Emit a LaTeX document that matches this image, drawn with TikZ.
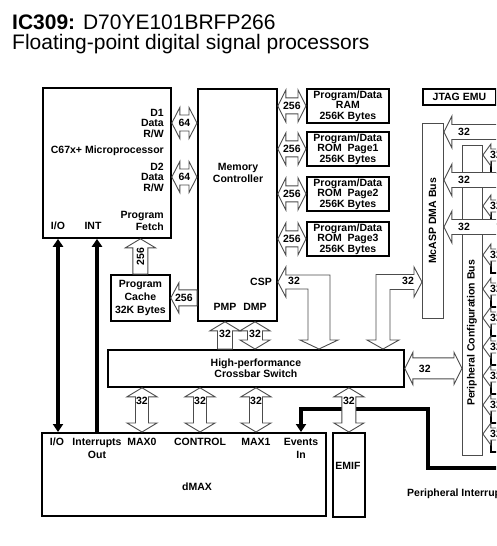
\documentclass[tikz,border=0pt]{standalone}
\usepackage{fontspec}
\setmainfont{Liberation Sans}
\usetikzlibrary{arrows.meta,calc}

% block buses: (left tip) (right tip) shaft-half head-half
\newcommand{\hdbl}[4]{%
  \draw[bus] (#1) -- ++(8,#4) -- ++(0,#3-#4) -- ($(#2)+(-8,#3)$) -- ++(0,#4-#3) -- (#2)
    -- ++(-8,-#4) -- ++(0,#4-#3) -- ($(#1)+(8,-#3)$) -- ++(0,#3-#4) -- cycle;}
\newcommand{\hsgl}[4]{%
  \draw[bus] (#1) -- ++(8,#4) -- ++(0,#3-#4) -- ($(#2)+(0,#3)$) -- ($(#2)+(0,-#3)$)
    -- ($(#1)+(8,-#3)$) -- ++(0,#3-#4) -- cycle;}
% (top tip) (bottom tip) shaft-half head-half
\newcommand{\vdbl}[4]{%
  \draw[bus] (#1) -- ++(#4,-9) -- ++(#3-#4,0) -- ($(#2)+(#3,9)$) -- ++(#4-#3,0) -- (#2)
    -- ++(-#4,9) -- ++(#4-#3,0) -- ($(#1)+(-#3,-9)$) -- ++(#3-#4,0) -- cycle;}
\newcommand{\vsgl}[4]{%
  \draw[bus] (#1) -- ++(#4,-9) -- ++(#3-#4,0) -- ($(#2)+(#3,0)$) -- ($(#2)+(-#3,0)$)
    -- ($(#1)+(-#3,-9)$) -- ++(#3-#4,0) -- cycle;}

\begin{document}
\begin{tikzpicture}[
  x=1pt, y=1pt,
  lbl/.style={font=\bfseries\fontsize{10.5}{10.5}\selectfont, text=black, inner sep=0pt, align=center},
  box/.style={lbl, draw=black, line width=1.8pt, fill=white, anchor=north west},
  rail/.style={draw=black!70, line width=0.9pt, fill=white, inner sep=0pt, anchor=north west},
  frag/.style={draw=black, line width=1.2pt, fill=white},
  bus/.style={draw=black!70, line width=0.9pt, fill=white},
  sig/.style={line width=4.5pt, black},
  tip/.style={-{Triangle[length=8pt,width=10pt]}},
  tips/.style={{Triangle[length=8pt,width=10pt]}-{Triangle[length=8pt,width=10pt]}},
  ttl/.style={font=\fontsize{21}{20}\selectfont, inner sep=0pt, anchor=base west}
]
\useasboundingbox (0,0) rectangle (496,-546);
\clip (0,0) rectangle (496,-546);

% title
\node[ttl] (title) at (12,-29.5) {\textbf{IC309:} D70YE101BRFP266};
\node[ttl] (subtitle) at (12,-49.5) {Floating-point digital signal processors};

% blocks
\node[box, minimum width=128, minimum height=150] (cpu) at (42,-87) {};
\node[box, minimum width=79, minimum height=232] (mem) at (197,-88) {};
\node[box, minimum width=82, minimum height=34] (ram) at (306,-88) {Program/Data\\RAM\\256K Bytes};
\node[box, minimum width=82, minimum height=34] (rom1) at (306,-131) {Program/Data\\ROM\ \ Page1\\256K Bytes};
\node[box, minimum width=82, minimum height=34] (rom2) at (306,-176) {Program/Data\\ROM\ \ Page2\\256K Bytes};
\node[box, minimum width=82, minimum height=34] (rom3) at (306,-221) {Program/Data\\ROM\ \ Page3\\256K Bytes};
\node[box, minimum width=59, minimum height=46] (cache) at (110,-274) {Program\\[2.5pt]Cache\\[2.5pt]32K Bytes};
\node[box, minimum width=296, minimum height=37] (xbar) at (107,-349) {High-performance\\[0.5pt]Crossbar Switch};
\node[box, minimum width=284, minimum height=83] (dmax) at (41,-432) {};
\node[box, minimum width=32, minimum height=84] (emif) at (332,-432) {};
\node[box, minimum width=73, minimum height=16] (jtag) at (422,-88) {JTAG EMU};
\node[rail, minimum width=21, minimum height=195] (mcasp) at (422,-123) {};
\node[rail, minimum width=20, minimum height=310] (pcb) at (462,-145) {};

% C67x+ labels
\node[lbl, anchor=east, align=right] (d1) at (164,-123) {D1\\Data\\R/W};
\node[lbl, anchor=east] (core) at (164,-151) {C67x+ Microprocessor};
\node[lbl, anchor=east, align=right] (d2) at (164,-177) {D2\\Data\\R/W};
\node[lbl, anchor=east, align=right] (fetch) at (164,-221) {Program\\[1.5pt]Fetch};
\node[lbl] (cio) at (58,-226) {I/O};
\node[lbl] (cint) at (93,-226) {INT};

% memory controller labels
\node[lbl] (memlbl) at (238,-173) {Memory\\[1.5pt]Controller};
\node[lbl, anchor=east] (csp) at (272,-282) {CSP};
\node[lbl] (pmp) at (225,-307) {PMP};
\node[lbl] (dmp) at (255,-307) {DMP};

% dMAX labels
\node[lbl, anchor=north] (dio) at (57,-438) {I/O};
\node[lbl, anchor=north] (dint) at (97,-438) {Interrupts\\[2.5pt]Out};
\node[lbl, anchor=north] (dmax0) at (142,-438) {MAX0};
\node[lbl, anchor=north] (dctl) at (200,-438) {CONTROL};
\node[lbl, anchor=north] (dmax1) at (256,-438) {MAX1};
\node[lbl, anchor=north] (evin) at (301,-438) {Events\\[2.5pt]In};
\node[lbl] (dmaxlbl) at (197,-487) {dMAX};
\node[lbl] (emiflbl) at (348,-466) {EMIF};
\node[lbl, anchor=west] (irqlbl) at (407,-494) {Peripheral Interrupts};

% interrupt and I/O lines
\coordinate (irqin) at (505,-468);
\draw[sig, tip] (irqin) -| ++(-77,59) -| (dmax.north -| evin);
\draw[sig, tips] (dmax.north -| cio) -- (cpu.south -| cio);
\draw[sig, tip] (dmax.north -| dint) -- (cpu.south -| dint);

% data buses
\hdbl{cpu.east |- d1}{mem.west |- d1}{8}{15.5}
\node[lbl] (b64a) at ($(cpu.east |- d1)!.5!(mem.west |- d1)$) {64};
\hdbl{cpu.east |- d2}{mem.west |- d2}{8}{15.5}
\node[lbl] (b64b) at ($(cpu.east |- d2)!.5!(mem.west |- d2)$) {64};
\foreach \m in {ram,rom1,rom2,rom3} {
  \hdbl{mem.east |- \m}{\m.west}{8}{16}
  \node[lbl] (b\m) at ($(mem.east |- \m)!.5!(\m.west)$) {256};
}
\hsgl{cache.east}{mem.west |- cache}{8}{15}
\node[lbl] (bcache) at ($(cache.east)!.5!(mem.west |- cache)$) {256};
\vsgl{cpu.south -| cache}{cache.north}{7.5}{15}
\node[lbl, rotate=90] (bfetch) at ($(cpu.south -| cache)!.5!(cache.north)$) {256};

% crossbar ports
\vsgl{mem.south -| pmp}{xbar.north -| pmp}{7.5}{15}
\node[lbl] (bpmp) at ($(mem.south -| pmp)!.45!(xbar.north -| pmp)$) {32};
\vdbl{mem.south -| dmp}{xbar.north -| dmp}{7.5}{15}
\node[lbl] (bdmp) at ($(mem.south -| dmp)!.45!(xbar.north -| dmp)$) {32};
\foreach \t in {dmax0,dctl,dmax1} {
  \vdbl{xbar.south -| \t}{dmax.north -| \t}{6.5}{15}
  \node[lbl] (b\t) at ($(xbar.south -| \t)!.3!(dmax.north -| \t)$) {32};
}
\vdbl{xbar.south -| emif}{emif.north}{7}{15}
\node[lbl] (bemif) at ($(xbar.south -| emif)!.3!(emif.north)$) {32};
\hdbl{xbar.east}{pcb.west |- xbar}{10.5}{16}
\node[lbl] (bpcb) at ($(xbar.east)!.35!(pcb.west |- xbar)$) {32};

% CSP and McASP bends
\coordinate (cspbend) at (319,-282);
\draw[bus] (mem.east |- cspbend) -- ++(8,15) -- ++(0,-8) -- ($(cspbend)+(11,7)$)
  -- ($(xbar.north -| cspbend)+(11,9)$) -- ++(8,0) -- (xbar.north -| cspbend) -- ++(-19,9) -- ++(8,0)
  -- ($(cspbend)+(-11,-7)$) -- ($(mem.east |- cspbend)+(8,-7)$) -- ++(0,-8) -- cycle;
\node[lbl] (bcsp) at (294,-281) {32};
\coordinate (mcbend) at (383,-282);
\draw[bus] (xbar.north -| mcbend) -- ++(-16,9) -- ++(9,0) -- ($(mcbend)+(-7,7.5)$)
  -- ($(mcasp.west |- mcbend)+(-8,7.5)$) -- ++(0,7.5) -- (mcasp.west |- mcbend) -- ++(-8,-15) -- ++(0,7.5)
  -- ($(mcbend)+(7,-7.5)$) -- ($(xbar.north -| mcbend)+(7,9)$) -- ++(9,0) -- cycle;
\node[lbl] (bmc) at (408,-281) {32};

% peripheral configuration bus
\foreach \y in {155,206,255,289,318,347,376,405,434} {
  \coordinate (pq) at (505,-\y);
  \draw[frag] (491,-\y+4) rectangle (530,-\y-18);
  \hsgl{pcb.east |- pq}{pq}{6}{11}
  \node[lbl] (bp\y) at (496,-\y) {32};
}

% McASP DMA bus
\foreach \y in {132,180,227} {
  \coordinate (mq) at (505,-\y);
  \hsgl{mcasp.east |- mq}{mq}{7.5}{16}
  \node[lbl] (bm\y) at (464,-\y) {32};
}
\node[lbl, rotate=90] (mcasplbl) at (432.5,-221) {McASP DMA Bus};
\node[lbl, rotate=90] (pcblbl) at (472,-333) {Peripheral Configuration Bus};
\end{tikzpicture}
\end{document}
